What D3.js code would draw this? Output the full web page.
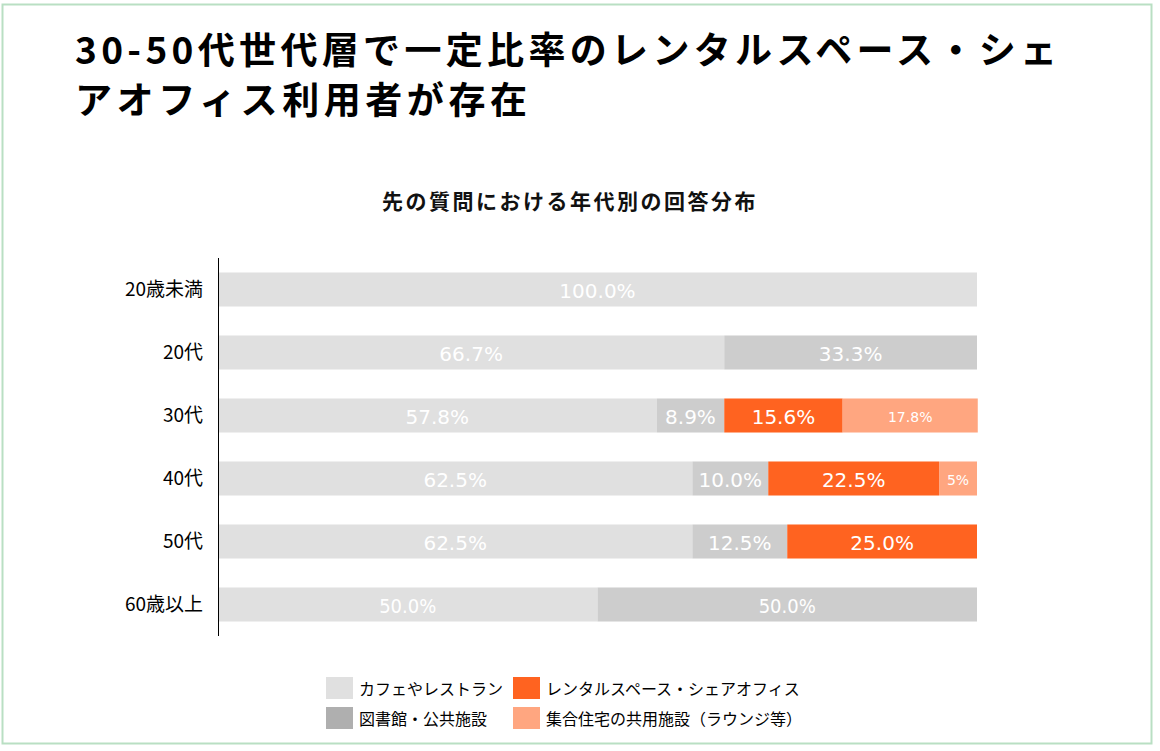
<!DOCTYPE html>
<html><head><meta charset="utf-8">
<script src="https://cdn.jsdelivr.net/npm/d3@7"></script>
<style>body{margin:0;background:#fff}</style>
</head><body>
<script>
const categories = ["20歳未満","20代","30代","40代","50代","60歳以上"];
const seriesNames = ["カフェやレストラン","図書館・公共施設","レンタルスペース・シェアオフィス","集合住宅の共用施設（ラウンジ等）"];
const cafe    = [100.0, 66.7, 57.8, 62.5, 62.5, 50.0];
const library = [0, 33.3, 8.9, 10.0, 12.5, 50.0];
const rental  = [0, 0, 15.6, 22.5, 25.0, 0];
const lounge  = [0, 0, 17.8, 5, 0, 0];
const labelText = [
  ["100.0%","66.7%","57.8%","62.5%","62.5%","50.0%"],
  ["","33.3%","8.9%","10.0%","12.5%","50.0%"],
  ["","","15.6%","22.5%","25.0%",""],
  ["","","17.8%","5%","",""]
];
const barColors = ["#e0e0e0","#cdcdcd","#ff6320","#ffa680"];
const legendColors = ["#e0e0e0","#afafaf","#ff6320","#ffa680"];
const titleLines = ["30-50代世代層で一定比率のレンタルスペース・シェ","アオフィス利用者が存在"];
const titleWidths = [982, 452];
const subtitle = "先の質問における年代別の回答分布";

const W=1160,H=751;
const svg=d3.select("body").append("svg").attr("width",W).attr("height",H);
svg.append("rect").attr("x",2.5).attr("y",4.5).attr("width",1149).attr("height",739)
  .attr("fill","#fff").attr("stroke","#b9dfc3").attr("stroke-width",2);

svg.selectAll("text.title").data(titleLines).join("text").attr("class","title")
  .attr("x",75).attr("y",(d,i)=>64+i*50)
  .attr("textLength",(d,i)=>titleWidths[i]).attr("lengthAdjust","spacing")
  .attr("font-family","'Noto Sans CJK JP'").attr("font-weight","bold").attr("font-size",37)
  .attr("fill","#000").text(d=>d);

svg.append("text").attr("x",570).attr("y",209).attr("text-anchor","middle")
  .attr("font-family","'Noto Sans CJK JP'").attr("font-weight","bold").attr("font-size",21)
  .attr("letter-spacing",2.5).attr("fill","#111").text(subtitle);

const x=d3.scaleLinear().domain([0,100]).range([218,977]);
const y=d3.scaleBand().domain(categories).range([258,636]).paddingInner(0.46).paddingOuter(0.23);

const series=[cafe,library,rental,lounge];
const stacked=[];
categories.forEach((c,i)=>{
  let acc=0;
  series.forEach((s,k)=>{
    const v=s[i];
    if(v>0) stacked.push({cat:c,k,x0:acc,x1:acc+v,label:labelText[k][i]});
    acc+=v;
  });
});

svg.append("g").selectAll("rect").data(stacked).join("rect")
  .attr("x",d=>x(d.x0)).attr("width",d=>x(d.x1)-x(d.x0))
  .attr("y",d=>y(d.cat)).attr("height",y.bandwidth())
  .attr("fill",d=>barColors[d.k]);

svg.append("g").selectAll("text").data(stacked.filter(d=>d.label)).join("text")
  .attr("x",d=>(x(d.x0)+x(d.x1))/2).attr("y",d=>y(d.cat)+y.bandwidth()/2+1)
  .attr("text-anchor","middle").attr("dominant-baseline","central")
  .attr("font-family",d=>d.cat==="60歳以上"?"'DejaVu Sans Condensed','DejaVu Sans'":"'DejaVu Sans'")
  .attr("font-size",d=>d.k===3?14:20)
  .attr("fill","#fff").text(d=>d.label);

const yAxis=d3.axisLeft(y).tickSize(0).tickPadding(15);
const ga=svg.append("g").attr("transform","translate(218,0)").call(yAxis);
ga.select(".domain").attr("stroke","#000").attr("d","M0.5,258V636");
ga.selectAll("text").attr("font-family","'Noto Sans CJK JP'").attr("font-size",19).attr("fill","#000");

const legendPos=[[326,677],[326,707],[513,677],[513,707]];
const lg=svg.append("g").selectAll("g").data(seriesNames).join("g")
  .attr("transform",(d,i)=>`translate(${legendPos[i][0]},${legendPos[i][1]})`);
lg.append("rect").attr("width",27).attr("height",22).attr("fill",(d,i)=>legendColors[i]);
lg.append("text").attr("x",33).attr("y",11).attr("dominant-baseline","central")
  .attr("font-family","'Noto Sans CJK JP'").attr("font-size",16).attr("fill","#000").text(d=>d);
</script>
</body></html>
